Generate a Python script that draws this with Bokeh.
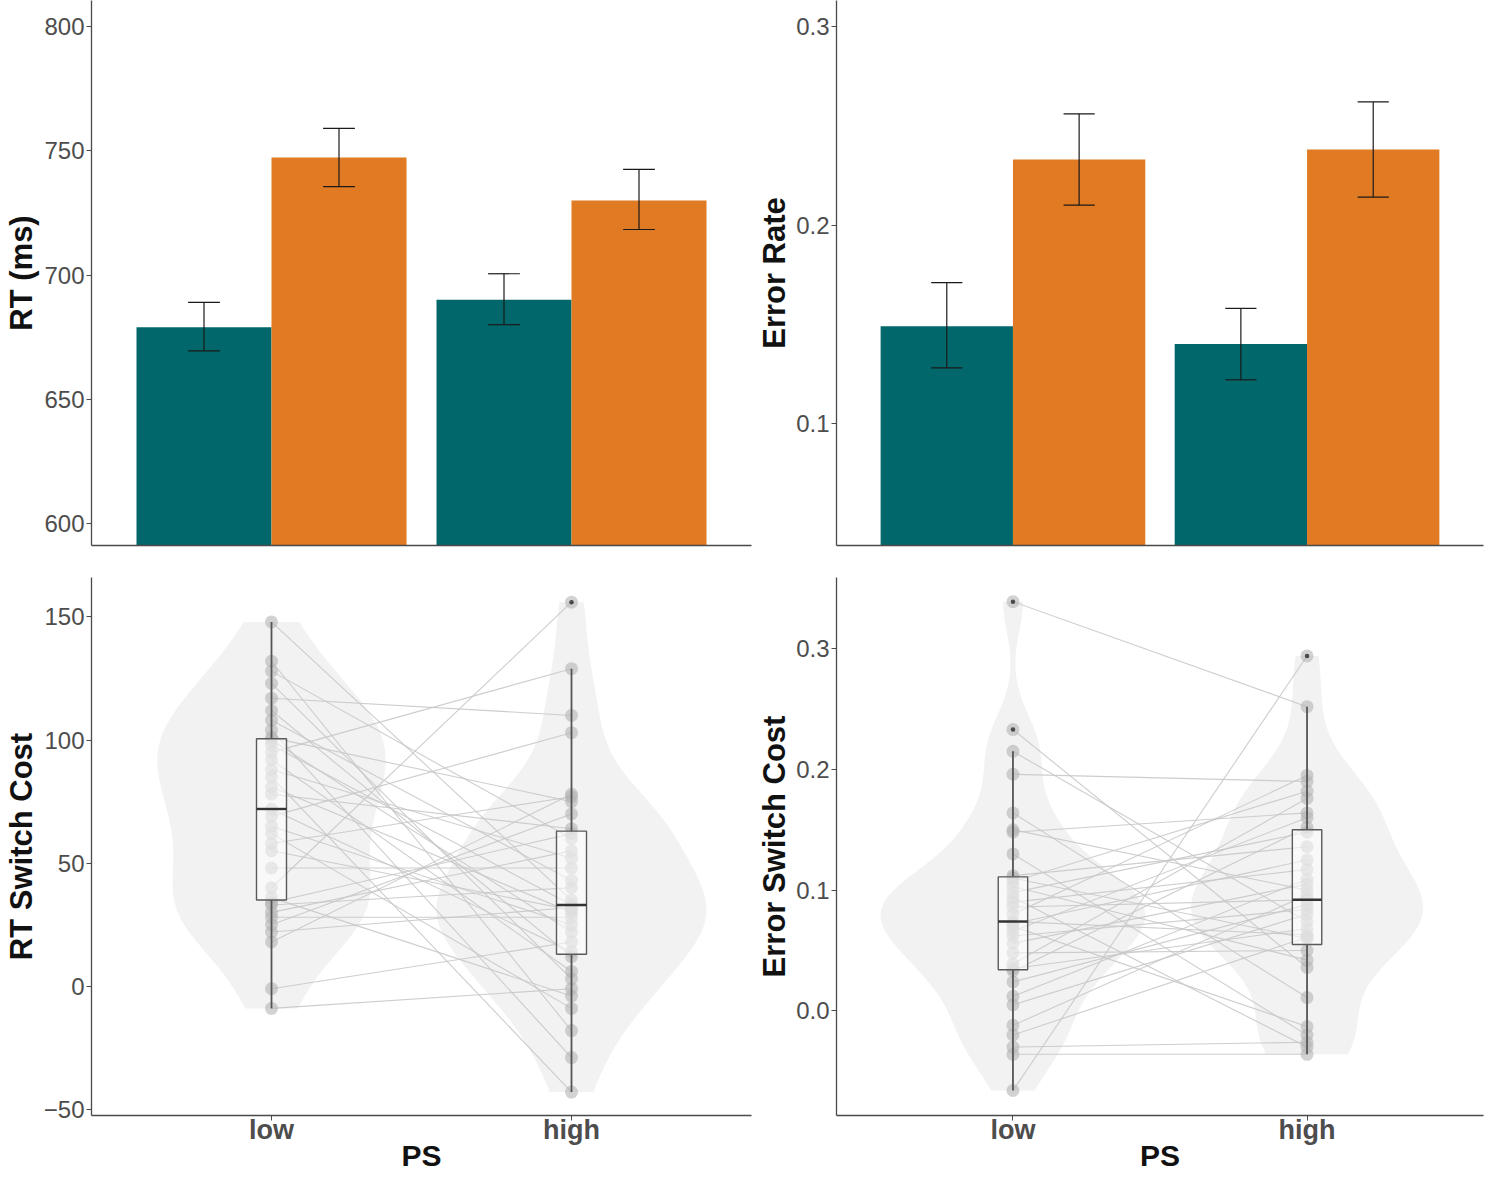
import numpy as np
from bokeh.plotting import figure
from bokeh.layouts import column, row
from bokeh.models import FixedTicker, NumeralTickFormatter, Range1d
from bokeh.embed import file_html
from bokeh.resources import INLINE

# ---------------- data ----------------
groups = ["low", "high"]
group_pos = [1, 2]

rt_repeat = [679, 690]
rt_repeat_lo = [669.5, 680]
rt_repeat_hi = [689, 700.5]
rt_switch = [747.3, 730]
rt_switch_lo = [735.6, 718.3]
rt_switch_hi = [759, 742.5]

er_repeat = [0.149, 0.140]
er_repeat_lo = [0.128, 0.122]
er_repeat_hi = [0.171, 0.158]
er_switch = [0.233, 0.238]
er_switch_lo = [0.210, 0.214]
er_switch_hi = [0.256, 0.262]

# per-subject switch costs (low PS, high PS), paired by subject
rt_cost_low = [148, 132, 128, 123, 117, 112, 108, 104, 101, 100, 98, 95, 92, 88, 85, 81, 78,
               72, 69, 65, 62, 58, 55, 48, 40, 36, 34, 33, 30, 28, 25, 22, 18, -1, -9]
rt_cost_high = [35, -18, 60, 3, 110, 12, 43, -29, 75, 22, 33, 129, 6, 52, -43, 30, 64,
                14, 103, 25, -9, 77, 31, 48, 156, -4, 62, 40, 55, 28, 70, 32, 78, 18, -1]

err_cost_low = [0.339, 0.233, 0.215, 0.196, 0.164, 0.150, 0.148, 0.130, 0.112, 0.110, 0.107,
                0.103, 0.098, 0.094, 0.090, 0.086, 0.080, 0.074, 0.072, 0.070, 0.066, 0.062,
                0.056, 0.048, 0.039, 0.035, 0.033, 0.024, 0.012, 0.005, -0.012, -0.020,
                -0.030, -0.036, -0.066]
err_cost_high = [0.252, 0.036, 0.074, 0.190, 0.011, 0.100, 0.164, -0.020, 0.136, 0.060, 0.182,
                 0.042, 0.148, -0.030, 0.117, 0.092, 0.195, 0.063, 0.125, -0.013, 0.160, 0.084,
                 0.105, 0.050, 0.176, 0.068, 0.152, 0.088, 0.109, 0.080, 0.096, 0.061,
                 -0.026, -0.036, 0.294]

# ---------------- style ----------------
TEAL = "#02676A"
ORANGE = "#E07A23"
FONT = "Liberation Sans"
AXIS_COL = "#4a4a4a"
TICK_TXT = "#4d4d4d"


def style(p, ylabel, yticks, fmt=None, bottom_labels=False, ylabel_standoff=2):
    p.xgrid.visible = False
    p.ygrid.visible = False
    p.outline_line_color = None
    p.background_fill_color = "white"
    p.border_fill_color = "white"
    ya = p.yaxis[0]
    ya.ticker = FixedTicker(ticks=yticks)
    if fmt:
        ya.formatter = NumeralTickFormatter(format=fmt)
    ya.axis_label = ylabel
    ya.axis_label_text_font = FONT
    ya.axis_label_text_font_style = "bold"
    ya.axis_label_text_font_size = "31px"
    ya.axis_label_text_color = "#111111"
    ya.axis_label_standoff = ylabel_standoff
    ya.major_label_text_font = FONT
    ya.major_label_text_font_size = "24px"
    ya.major_label_text_color = TICK_TXT
    ya.major_label_standoff = 2
    ya.major_tick_out = 5
    ya.major_tick_in = 0
    ya.minor_tick_out = 0
    ya.minor_tick_in = 0
    ya.axis_line_color = AXIS_COL
    ya.axis_line_width = 1.3
    ya.major_tick_line_color = AXIS_COL
    xa = p.xaxis[0]
    xa.axis_line_color = AXIS_COL
    xa.axis_line_width = 1.3
    xa.minor_tick_out = 0
    xa.minor_tick_in = 0
    xa.major_tick_in = 0
    if bottom_labels:
        xa.ticker = FixedTicker(ticks=group_pos)
        xa.major_label_overrides = {group_pos[i]: groups[i] for i in range(2)}
        xa.major_label_text_font = FONT
        xa.major_label_text_font_style = "bold"
        xa.major_label_text_font_size = "27px"
        xa.major_label_text_color = TICK_TXT
        xa.major_label_standoff = -6
        xa.major_tick_out = 5
        xa.major_tick_line_color = AXIS_COL
        xa.axis_label = "PS"
        xa.axis_label_text_font = FONT
        xa.axis_label_text_font_style = "bold"
        xa.axis_label_text_font_size = "30px"
        xa.axis_label_text_color = "#111111"
        xa.axis_label_standoff = -9
    else:
        xa.ticker = FixedTicker(ticks=[])
        xa.major_label_text_font_size = "0px"
        xa.major_tick_out = 0


def bar_panel(ystart, yend, rep, rep_lo, rep_hi, sw, sw_lo, sw_hi, ylabel, yticks, fmt,
              width, left, right, label_standoff):
    p = figure(width=width, height=565, x_range=Range1d(0.4, 2.6), y_range=Range1d(ystart, yend),
               output_backend="svg", toolbar_location=None, min_border_left=left,
               min_border_right=right, min_border_top=0, min_border_bottom=20)
    pos = np.array(group_pos, dtype=float)
    off = 0.225
    p.vbar(x=pos - off, width=0.45, top=rep, bottom=ystart, fill_color=TEAL, line_color=None)
    p.vbar(x=pos + off, width=0.45, top=sw, bottom=ystart, fill_color=ORANGE, line_color=None)
    for xs, lo, hi in ((pos - off, rep_lo, rep_hi), (pos + off, sw_lo, sw_hi)):
        p.segment(x0=xs, x1=xs, y0=lo, y1=hi, line_color="#1a1a1a", line_width=1.2)
        p.segment(x0=xs - 0.053, x1=xs + 0.053, y0=lo, y1=lo, line_color="#1a1a1a", line_width=1.2)
        p.segment(x0=xs - 0.053, x1=xs + 0.053, y0=hi, y1=hi, line_color="#1a1a1a", line_width=1.2)
    style(p, ylabel, yticks, fmt, ylabel_standoff=label_standoff)
    return p


def kde(vals, grid):
    v = np.asarray(vals, dtype=float)
    n = len(v)
    sd = np.std(v, ddof=1)
    q75, q25 = np.percentile(v, [75, 25])
    bw = 0.9 * min(sd, (q75 - q25) / 1.34) * n ** -0.2
    d = np.exp(-0.5 * ((grid[:, None] - v[None, :]) / bw) ** 2).sum(axis=1)
    return d / (n * bw * np.sqrt(2 * np.pi))


def dist_panel(low, high, ystart, yend, ylabel, yticks, fmt, width, left, right, label_standoff):
    p = figure(width=width, height=609, x_range=Range1d(0.4, 2.6), y_range=Range1d(ystart, yend),
               output_backend="svg", toolbar_location=None, min_border_left=left,
               min_border_right=right, min_border_top=12, min_border_bottom=53)
    data = [np.asarray(low, float), np.asarray(high, float)]
    grids, dens = [], []
    for v in data:
        g = np.linspace(v.min(), v.max(), 512)
        grids.append(g)
        dens.append(kde(v, g))
    mx = max(d.max() for d in dens)
    for pos, g, d in zip(group_pos, grids, dens):
        hw = 0.45 * d / mx
        xs = np.concatenate([pos - hw, (pos + hw)[::-1]])
        ys = np.concatenate([g, g[::-1]])
        p.patch(xs, ys, fill_color="#f2f2f2", fill_alpha=1.0, line_color=None)
    # subject lines
    p.multi_line(xs=[[group_pos[0], group_pos[1]] for _ in low],
                 ys=[[a, b] for a, b in zip(low, high)],
                 line_color="#c8c8c8", line_width=1.1, line_alpha=0.9)
    # points
    for pos, v in zip(group_pos, data):
        p.scatter(x=[pos] * len(v), y=v, size=13, fill_color="#b4b4b4", fill_alpha=0.6,
                  line_color=None)
    # boxplots
    for pos, v in zip(group_pos, data):
        q1, med, q3 = np.percentile(v, [25, 50, 75])
        iqr = q3 - q1
        inside = v[(v >= q1 - 1.5 * iqr) & (v <= q3 + 1.5 * iqr)]
        wlo, whi = inside.min(), inside.max()
        out = v[(v < q1 - 1.5 * iqr) | (v > q3 + 1.5 * iqr)]
        p.segment(x0=[pos, pos], x1=[pos, pos], y0=[q3, q1], y1=[whi, wlo],
                  line_color="#555555", line_width=1.8)
        p.vbar(x=[pos], width=0.1, top=[q3], bottom=[q1], fill_color="white", fill_alpha=0.55,
               line_color="#5a5a5a", line_width=1.4)
        p.segment(x0=[pos - 0.05], x1=[pos + 0.05], y0=[med], y1=[med],
                  line_color="#333333", line_width=2.4)
        if len(out):
            p.scatter(x=[pos] * len(out), y=out, size=4.5, fill_color="#333333",
                      line_color=None, fill_alpha=0.85)
    style(p, ylabel, yticks, fmt, bottom_labels=True, ylabel_standoff=label_standoff)
    return p


p1 = bar_panel(591.15, 810.46, rt_repeat, rt_repeat_lo, rt_repeat_hi, rt_switch, rt_switch_lo,
               rt_switch_hi, "RT (ms)", [600, 650, 700, 750, 800], None, 752, 91, 1, 2)
p2 = bar_panel(0.03854, 0.31310, er_repeat, er_repeat_lo, er_repeat_hi, er_switch, er_switch_lo,
               er_switch_hi, "Error Rate", [0.1, 0.2, 0.3], "0.0", 732, 84, 1, 1)
p3 = dist_panel(rt_cost_low, rt_cost_high, -52.51, 166.03, "RT Switch Cost",
                [-50, 0, 50, 100, 150], None, 752, 91, 1, 2)
p4 = dist_panel(err_cost_low, err_cost_high, -0.0867, 0.3590, "Error Switch Cost",
                [0.0, 0.1, 0.2, 0.3], "0.0", 732, 84, 1, 1)

layout = column(row(p1, p2), row(p3, p4))
open("out.html", "w").write(file_html(layout, INLINE))
